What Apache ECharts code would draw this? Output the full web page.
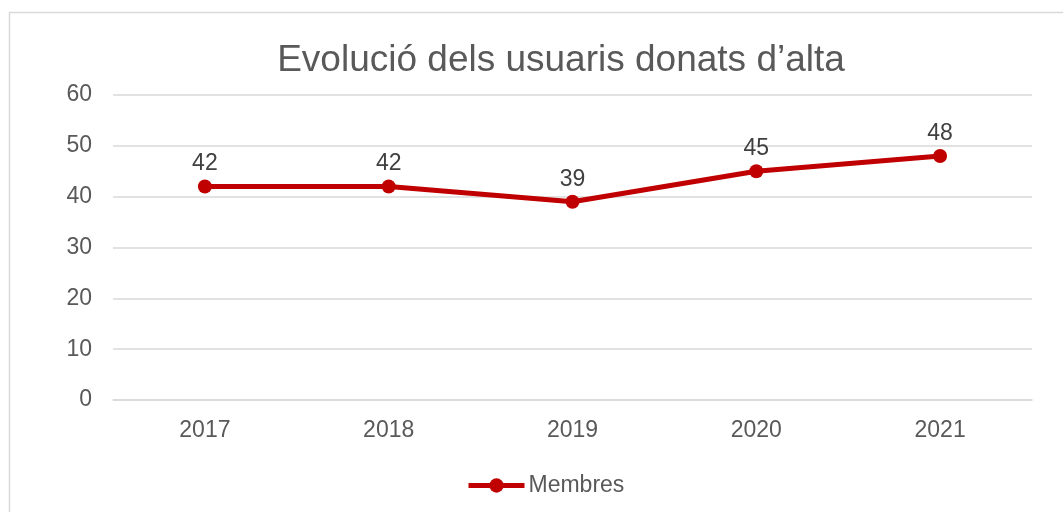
<!DOCTYPE html>
<html><head><meta charset="utf-8">
<script src="https://cdn.jsdelivr.net/npm/echarts@6/dist/echarts.min.js"></script>
<style>html,body{margin:0;padding:0;background:#fff}#c{width:1063px;height:512px}</style>
</head><body><div id="c"></div>
<script>
const categories = ['2017','2018','2019','2020','2021'];
const membres = [42, 42, 39, 45, 48];
const yTicks = {min: 0, max: 60, interval: 10};
const titleText = 'Evolució dels usuaris donats d’alta';
const seriesName = 'Membres';

const chart = echarts.init(document.getElementById('c'), null, {renderer: 'canvas'});
const font = '"Liberation Sans", Arial, sans-serif';
chart.setOption({
  backgroundColor: '#fff',
  animation: false,
  graphic: [{
    type: 'rect', silent: true, z: -1,
    shape: {x: 9.5, y: 12.5, width: 1200, height: 700},
    style: {fill: '#fff', stroke: '#d9d9d9', lineWidth: 1.5}
  }],
  title: {
    text: titleText, left: 556, top: 37, textAlign: 'center',
    textStyle: {fontFamily: font, fontSize: 37, fontWeight: 'normal', color: '#595959'}
  },
  grid: {left: 113, right: 31, top: 95, bottom: 112, containLabel: false},
  legend: {
    data: [seriesName], left: 466, top: 474, padding: 0,
    itemWidth: 56, itemHeight: 18, itemGap: 4,
    lineStyle: {width: 5},
    textStyle: {fontFamily: font, fontSize: 23, color: '#595959', padding: [0,0,0,-1]}
  },
  xAxis: {
    type: 'category', data: categories, boundaryGap: true,
    axisLine: {show: true, lineStyle: {color: '#d9d9d9', width: 1.5}},
    axisTick: {show: false},
    axisLabel: {fontFamily: font, fontSize: 23, color: '#595959', margin: 19}
  },
  yAxis: {
    type: 'value', min: yTicks.min, max: yTicks.max, interval: yTicks.interval,
    axisLine: {show: false}, axisTick: {show: false},
    splitLine: {lineStyle: {color: '#d9d9d9', width: 1.5}},
    axisLabel: {fontFamily: font, fontSize: 23, color: '#595959', margin: 21}
  },
  series: [{
    name: seriesName, type: 'line', data: membres,
    symbol: 'circle', symbolSize: 14,
    lineStyle: {color: '#C00000', width: 5},
    itemStyle: {color: '#C00000'},
    label: {show: true, position: 'top', distance: 4, fontFamily: font, fontSize: 23, color: '#404040'}
  }]
});
</script></body></html>
